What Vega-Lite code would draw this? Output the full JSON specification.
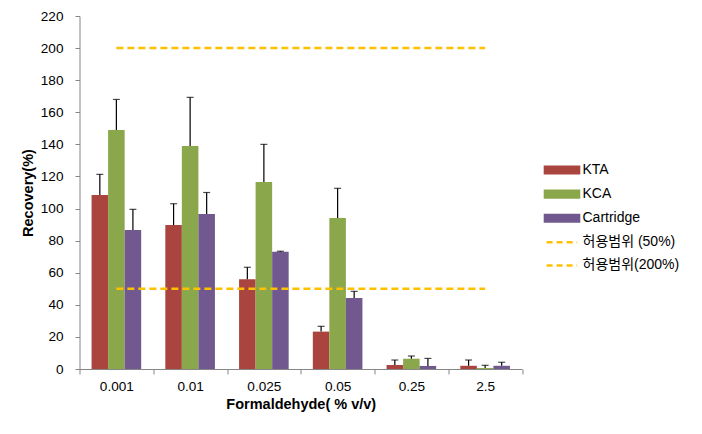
{
  "$schema": "https://vega.github.io/schema/vega-lite/v6.json",
  "width": 442.5,
  "height": 353,
  "autosize": {"type": "none"},
  "padding": {"left": 79.5, "top": 16, "right": 180, "bottom": 65},
  "background": "white",
  "config": {
    "view": {"stroke": null},
    "font": "Liberation Sans, Arial, Noto Sans CJK KR",
    "axis": {
      "labelFont": "Liberation Sans, Arial, Noto Sans CJK KR",
      "titleFont": "Liberation Sans, Arial, Noto Sans CJK KR",
      "labelFontSize": 13.6,
      "titleFontSize": 14.5,
      "labelColor": "#000000",
      "titleColor": "#000000",
      "titleFontWeight": "bold",
      "domainColor": "#868686",
      "tickColor": "#868686",
      "labelOverlap": false,
      "grid": false
    }
  },
  "datasets": {
    "bars": [
      {"conc": "0.001", "series": "KTA", "value": 108.4, "upper": 121.3},
      {"conc": "0.001", "series": "KCA", "value": 149, "upper": 168},
      {"conc": "0.001", "series": "Cartridge", "value": 86.6, "upper": 99.5},
      {"conc": "0.01", "series": "KTA", "value": 89.7, "upper": 103},
      {"conc": "0.01", "series": "KCA", "value": 139, "upper": 169.3},
      {"conc": "0.01", "series": "Cartridge", "value": 96.6, "upper": 110},
      {"conc": "0.025", "series": "KTA", "value": 56, "upper": 63.4},
      {"conc": "0.025", "series": "KCA", "value": 116.5, "upper": 140},
      {"conc": "0.025", "series": "Cartridge", "value": 73, "upper": 73.4},
      {"conc": "0.05", "series": "KTA", "value": 23.3, "upper": 26.6},
      {"conc": "0.05", "series": "KCA", "value": 94.1, "upper": 112.6},
      {"conc": "0.05", "series": "Cartridge", "value": 44.3, "upper": 48.4},
      {"conc": "0.25", "series": "KTA", "value": 2.5, "upper": 5.6},
      {"conc": "0.25", "series": "KCA", "value": 6.4, "upper": 8.1},
      {"conc": "0.25", "series": "Cartridge", "value": 1.9, "upper": 6.6},
      {"conc": "2.5", "series": "KTA", "value": 2, "upper": 5.6},
      {"conc": "2.5", "series": "KCA", "value": 0.6, "upper": 2.3},
      {"conc": "2.5", "series": "Cartridge", "value": 2, "upper": 4.2}
    ],
    "limits": [
      {"conc": "0.001", "series": "허용범위 (50%)", "value": 50},
      {"conc": "0.01", "series": "허용범위 (50%)", "value": 50},
      {"conc": "0.025", "series": "허용범위 (50%)", "value": 50},
      {"conc": "0.05", "series": "허용범위 (50%)", "value": 50},
      {"conc": "0.25", "series": "허용범위 (50%)", "value": 50},
      {"conc": "2.5", "series": "허용범위 (50%)", "value": 50},
      {"conc": "0.001", "series": "허용범위(200%)", "value": 200},
      {"conc": "0.01", "series": "허용범위(200%)", "value": 200},
      {"conc": "0.025", "series": "허용범위(200%)", "value": 200},
      {"conc": "0.05", "series": "허용범위(200%)", "value": 200},
      {"conc": "0.25", "series": "허용범위(200%)", "value": 200},
      {"conc": "2.5", "series": "허용범위(200%)", "value": 200}
    ]
  },
  "encoding": {
    "x": {
      "field": "conc",
      "type": "nominal",
      "sort": ["0.001", "0.01", "0.025", "0.05", "0.25", "2.5"],
      "scale": {"paddingInner": 0, "paddingOuter": 0},
      "axis": {
        "title": "Formaldehyde( % v/v)",
        "labelAngle": 0,
        "tickBand": "extent",
        "tickSize": 5,
        "labelPadding": 5,
        "titlePadding": 5
      }
    }
  },
  "layer": [
    {
      "data": {"name": "bars"},
      "mark": {"type": "bar"},
      "encoding": {
        "xOffset": {
          "field": "series",
          "type": "nominal",
          "sort": ["KTA", "KCA", "Cartridge"],
          "scale": {"paddingInner": 0, "paddingOuter": 0.73}
        },
        "y": {
          "field": "value",
          "type": "quantitative",
          "scale": {"domain": [0, 220], "nice": false},
          "axis": {
            "title": "Recovery(%)",
            "values": [0, 20, 40, 60, 80, 100, 120, 140, 160, 180, 200, 220],
            "tickSize": 4.5,
            "labelPadding": 12,
            "titlePadding": 5,
            "labelOverlap": false
          }
        },
        "color": {
          "field": "series",
          "type": "nominal",
          "scale": {
            "domain": ["KTA", "KCA", "Cartridge", "허용범위 (50%)", "허용범위(200%)"],
            "range": ["#A9443F", "#8BA74B", "#71598F", "#FFC000", "#FFC000"]
          },
          "legend": {
            "title": null,
            "orient": "none",
            "legendX": 470,
            "legendY": 141.5,
            "padding": 0,
            "rowPadding": 3.1,
            "symbolSize": 484,
            "labelOffset": 8,
            "labelFontSize": 14,
            "labelColor": "#000000",
            "labelFont": "Liberation Sans, Arial, Noto Sans CJK KR",
            "encode": {
              "symbols": {
                "update": {
                  "shape": [
                    {"test": "indexof(datum.value, '허용') >= 0", "value": "M-1.4,0H1.38"},
                    {"value": "M-1.55,-0.3H1.55V0.3H-1.55Z"}
                  ],
                  "fill": [
                    {"test": "indexof(datum.value, '허용') >= 0", "value": "transparent"},
                    {"scale": "color", "field": "value"}
                  ],
                  "stroke": [
                    {"test": "indexof(datum.value, '허용') >= 0", "value": "#FFC000"},
                    {"value": "transparent"}
                  ],
                  "strokeDash": [
                    {"test": "indexof(datum.value, '허용') >= 0", "value": [6, 4]},
                    {"value": []}
                  ],
                  "strokeWidth": {"value": 2.5},
                  "opacity": {"value": 1}
                }
              }
            }
          }
        }
      }
    },
    {
      "data": {"name": "bars"},
      "mark": {"type": "rule", "color": "#000000", "strokeWidth": 1.2},
      "encoding": {
        "xOffset": {"field": "series", "type": "nominal", "sort": ["KTA", "KCA", "Cartridge"]},
        "y": {
          "field": "value",
          "type": "quantitative",
          "axis": {
            "title": "Recovery(%)",
            "values": [0, 20, 40, 60, 80, 100, 120, 140, 160, 180, 200, 220],
            "tickSize": 4.5,
            "labelPadding": 12,
            "titlePadding": 5,
            "labelOverlap": false
          }
        },
        "y2": {"field": "upper"}
      }
    },
    {
      "data": {"name": "bars"},
      "mark": {"type": "tick", "color": "#000000", "thickness": 1.2, "size": 7, "orient": "horizontal"},
      "encoding": {
        "xOffset": {"field": "series", "type": "nominal", "sort": ["KTA", "KCA", "Cartridge"]},
        "y": {
          "field": "upper",
          "type": "quantitative",
          "axis": {
            "title": "Recovery(%)",
            "values": [0, 20, 40, 60, 80, 100, 120, 140, 160, 180, 200, 220],
            "tickSize": 4.5,
            "labelPadding": 12,
            "titlePadding": 5,
            "labelOverlap": false
          }
        }
      }
    },
    {
      "data": {"name": "limits"},
      "mark": {"type": "line", "strokeDash": [7, 4], "strokeWidth": 2.5},
      "encoding": {
        "y": {
          "field": "value",
          "type": "quantitative",
          "axis": {
            "title": "Recovery(%)",
            "values": [0, 20, 40, 60, 80, 100, 120, 140, 160, 180, 200, 220],
            "tickSize": 4.5,
            "labelPadding": 12,
            "titlePadding": 5,
            "labelOverlap": false
          }
        },
        "color": {"field": "series", "type": "nominal"}
      }
    }
  ]
}
